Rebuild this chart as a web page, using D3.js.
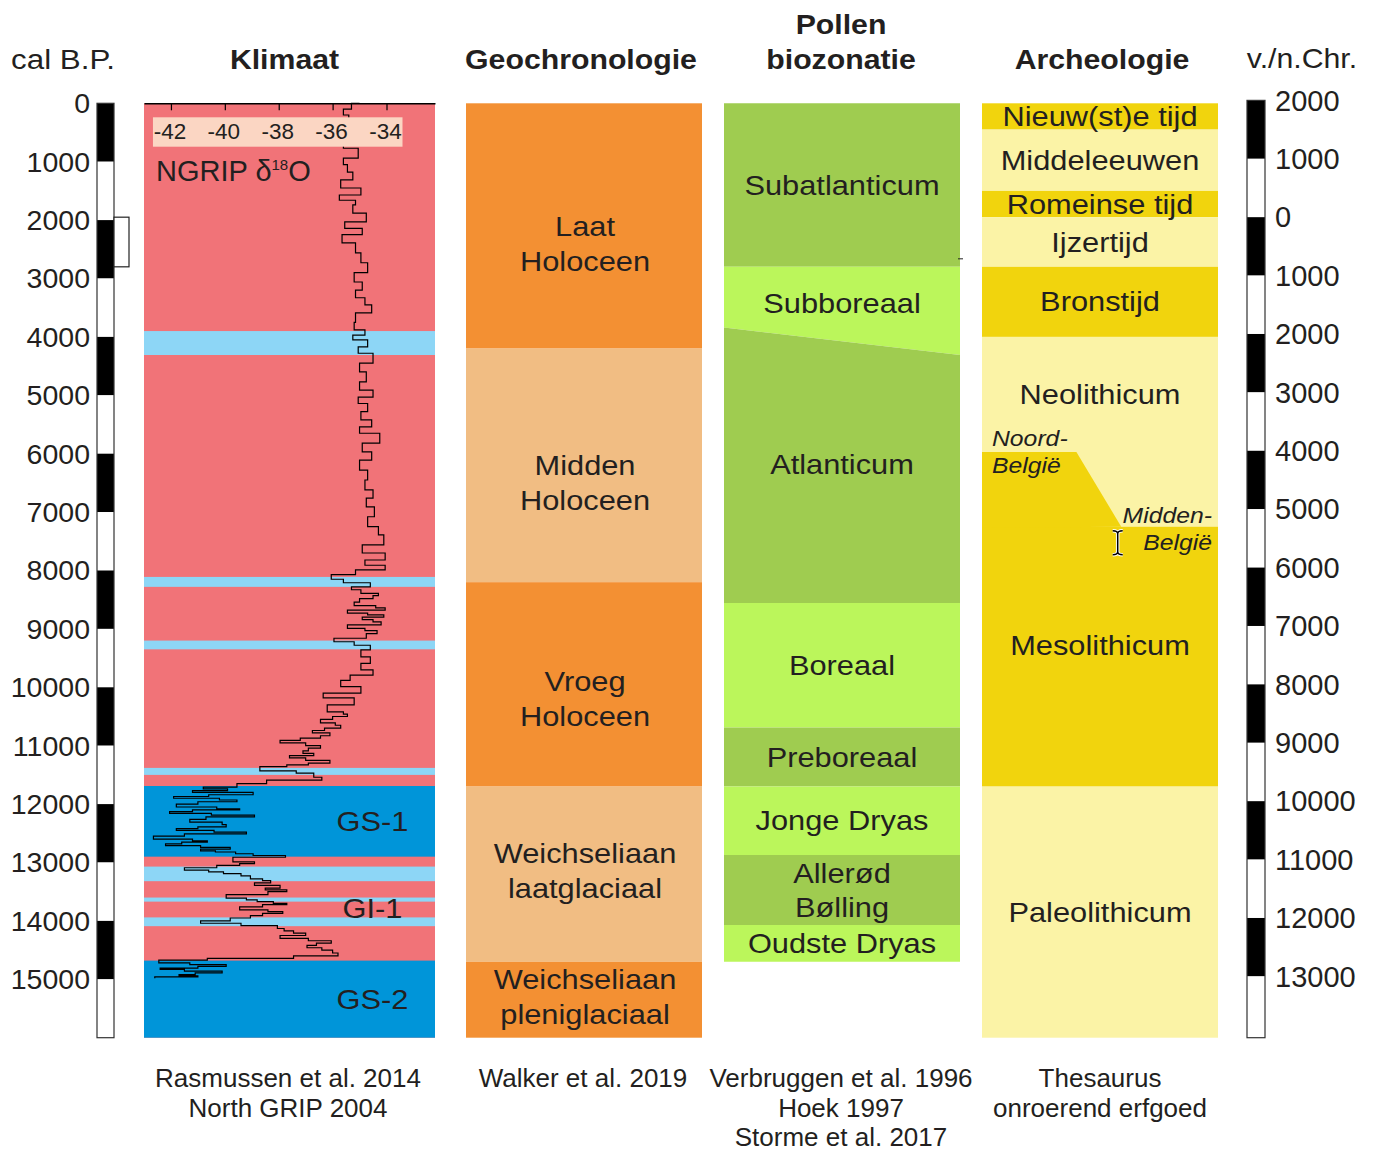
<!DOCTYPE html>
<html><head><meta charset="utf-8">
<script src="https://cdn.jsdelivr.net/npm/d3@7"></script>
<style>
body{margin:0;background:#fff}
svg{display:block}
text{font-family:"Liberation Sans",Arial,Helvetica,sans-serif;fill:#231f20}
</style>
</head><body>
<svg id="c" width="1379" height="1151"></svg>
<script>
// ---------------- DATA ----------------
const calBPTicks = [0,1000,2000,3000,4000,5000,6000,7000,8000,9000,10000,11000,12000,13000,14000,15000];
const calBPEnd = 16000;
const chrYears = [2000,1000,0,-1000,-2000,-3000,-4000,-5000,-6000,-7000,-8000,-9000,-10000,-11000,-12000,-13000];
const chrTickLabels = ["2000","1000","0","1000","2000","3000","4000","5000","6000","7000","8000","9000","10000","11000","12000","13000"];
const bpOfYearZero = 1950;
const markerBox = [1950, 2800];

const d18OTicks = [-42,-40,-38,-36,-34];
const d18ODomain = [-43.0,-32.2];

const climFrom = [3900, 8110, 9200, 11380, 11690, 13070, 13600, 13940, 14680];
const climTo   = [4310, 8280, 9350, 11500, 12900, 13320, 13670, 14090, 16000];
const climKind = ["cold","cold","cold","cold","stadial","cold","cold","cold","stadial"];
const climLabels = ["GS-1","GI-1","GS-2"];
const climLabelFrom = [11690, 12900, 14680];
const climLabelTo = [12900, 14680, 16000];

// NGRIP d18O (permil): age (cal BP) and value
const ngripAge = [0,100,200,350,500,650,770,940,1050,1180,1310,1450,1570,1660,1740,1880,2030,2140,2250,2390,2560,2730,2900,3060,3200,3330,3450,3590,3750,3880,3970,4050,4170,4280,4450,4600,4770,4910,5030,5140,5280,5420,5540,5650,5820,5970,6110,6280,6450,6620,6760,6910,7080,7250,7390,7560,7700,7820,7910,7990,8070,8150,8210,
  8280,8330,8390,8430,8480,8540,8600,8640,8680,8730,8760,8800,8840,8880,8930,8990,9030,9080,9160,9220,9280,9360,9480,9590,9700,9790,9880,9990,10100,10180,10300,
  10420,10460,10500,10550,10610,10650,10700,10740,10780,10830,10870,10910,10950,11000,11040,11090,11130,11170,11210,11250,11300,11330,11360,11430,11470,11540,11590,11650,
  11710,11740,11770,11800,11840,11870,11900,11930,11960,12000,12050,12080,12100,12130,12160,12190,12220,12260,12310,12350,12390,12420,12450,12480,12510,12550,12600,12630,12650,12680,12710,12740,12770,12800,12820,12850,12880,12910,
  12990,13020,13050,13090,13130,13160,13190,13230,13280,13310,13350,13390,13440,13470,13500,13550,13610,13640,13670,13700,13720,13760,13810,13840,13870,13910,13950,14000,14040,14080,14130,14170,14210,14250,14300,14340,14380,14420,14460,14500,14550,14600,14640,14670,
  14720,14750,14780,14810,14830,14860,14890,14920,14940,14960,14980];
const ngripD18O = [-35.0,-35.3,-35.6,-35.4,-35.2,-35.5,-35.6,-35.05,-35.6,-35.45,-35.25,-35.7,-34.95,-35.75,-35.15,-35.25,-34.75,-35.55,-34.9,-35.65,-35.15,-34.95,-34.7,-35.2,-34.9,-35.15,-34.8,-34.55,-35.15,-35.2,-34.8,-35.25,-34.7,-35.05,-34.5,-35.0,-34.75,-35.0,-34.5,-35.05,-34.7,-34.95,-34.55,-35.0,-34.25,-34.9,-34.55,-35.0,-34.7,-34.8,-34.5,-34.75,-34.45,-34.7,-34.3,-34.1,-34.9,-34.05,-34.8,-34.05,-35.15,-36.05,-35.6,
  -34.6,-35.3,-34.95,-34.3,-34.5,-35.0,-35.2,-34.4,-34.05,-35.45,-34.7,-34.1,-34.9,-34.5,-34.2,-35.45,-34.8,-34.35,-34.75,-35.95,-35.2,-34.6,-34.95,-34.6,-34.95,-34.5,-35.35,-35.7,-34.95,-36.35,-35.2,
  -36.2,-35.6,-35.45,-36.0,-36.45,-35.9,-35.7,-36.3,-36.75,-36.1,-36.45,-37.2,-37.95,-37.0,-36.45,-36.9,-37.1,-36.7,-37.6,-37.0,-36.1,-36.9,-37.7,-38.7,-37.35,-36.7,-36.4,-38.45,
  -39.55,-40.8,-39.9,-41.2,-38.95,-40.6,-41.9,-40.2,-39.55,-41.0,-41.8,-40.3,-39.45,-41.2,-42.05,-40.5,-38.9,-40.7,-41.3,-40.1,-39.95,-41.0,-41.8,-40.4,-39.2,-41.5,-42.65,-41.2,-40.65,-41.6,-42.2,-40.9,-39.8,-40.9,-40.35,-39.6,-38.95,-37.75,
  -39.7,-38.9,-39.45,-40.3,-41.5,-40.6,-40.05,-39.4,-39.05,-38.6,-38.3,-38.9,-37.95,-38.5,-37.7,-38.4,-39.95,-39.2,-38.8,-38.2,-37.7,-38.6,-39.45,-38.4,-37.85,-38.6,-39.05,-39.8,-40.9,-39.4,-38.05,-37.8,-37.45,-37.0,-37.95,-36.9,-36.05,-36.6,-36.95,-36.4,-36.0,-35.8,-37.45,-40.65,
  -42.45,-41.3,-39.95,-41.0,-42.4,-41.5,-40.1,-41.1,-41.7,-41.0,-42.6];

const geoNames = [["Laat","Holoceen"],["Midden","Holoceen"],["Vroeg","Holoceen"],["Weichseliaan","laatglaciaal"],["Weichseliaan","pleniglaciaal"]];
const geoFrom = [0,4200,8200,11700,14700];
const geoTo   = [4200,8200,11700,14700,16000];
const geoKind = [0,1,0,1,0];
const geoLabelBP = [2400,6500,10200,13150,15300];

const pollenNames = [["Subatlanticum"],["Subboreaal"],["Atlanticum"],["Boreaal"],["Preboreaal"],["Jonge Dryas"],["Allerød","Bølling"],["Oudste Dryas"]];
const pollenTopL = [0,2800,3840,8555,10690,11700,12870,14070];
const pollenTopR = [0,2800,4310,8555,10690,11700,12870,14070];
const pollenBotL = [2800,3840,8555,10690,11700,12870,14070,14700];
const pollenBotR = [2800,4310,8555,10690,11700,12870,14070,14700];
const pollenKind = [0,1,0,1,0,1,0,1];
const pollenLabelBP = [1400,3430,6190,9620,11195,12285,13470,14385];

const archNames = ["Nieuw(st)e tijd","Middeleeuwen","Romeinse tijd","Ijzertijd","Bronstijd","Neolithicum","Mesolithicum","Paleolithicum"];
const archFrom = [0,450,1500,1950,2800,4000,7250,11700];
const archTo   = [450,1500,1950,2800,4000,7250,11700,16000];
const archKind = [1,0,1,0,1,0,1,0];
const archLabelBP = [225,975,1725,2375,3400,4985,9280,13850];
const mesoNorthBP = 5970;   // Neolithicum/Mesolithicum boundary, Noord-België
const mesoMidBP = 7250;     // idem, Midden-België

const headers = ["Klimaat","Geochronologie","Archeologie"];
const sources = [["Rasmussen et al. 2014","North GRIP 2004"],["Walker et al. 2019"],["Verbruggen et al. 1996","Hoek 1997","Storme et al. 2017"],["Thesaurus","onroerend erfgoed"]];

// ---------------- LAYOUT / STYLE ----------------
const C = {
  red:"#f17378", cold:"#8dd6f6", stadial:"#0095d9", peach:"#fbd6c3",
  orange:["#f39033","#f1bd83"], green:["#9fcc50","#bbf65b"], yellow:["#fbf3a6","#f1d40d"]
};
const colClim=[144,435], colGeo=[466,702], colPol=[724,960], colArch=[982,1218];
const svg = d3.select("#c");
const y = d3.scaleLinear().domain([0,16000]).range([103.3,1037.7]);

function txt(g, str, x, yy, size, opt={}) {
  return g.append("text")
    .attr("transform", `translate(${x},${yy}) scale(${opt.sx||1},1)`)
    .attr("text-anchor", opt.anchor||"middle")
    .attr("dy","0.35em")
    .style("font-size", size+"px")
    .style("font-weight", opt.bold?"bold":"normal")
    .style("font-style", opt.italic?"italic":"normal")
    .text(str);
}
function lines(g, arr, x, cy, size, lh, opt) {
  arr.forEach((s,i)=> txt(g, s, x, cy + (i-(arr.length-1)/2)*lh, size, opt));
}
const LBL = 27.5, LSX = 1.12;

// ---------------- LEFT AXIS ----------------
const gL = svg.append("g");
calBPTicks.forEach((t,i)=>{
  const t1 = i<calBPTicks.length-1 ? calBPTicks[i+1] : calBPEnd;
  gL.append("rect").attr("x",97).attr("width",17).attr("y",y(t)).attr("height",y(t1)-y(t))
    .attr("fill", i%2===0 ? "#000" : "#fff");
  txt(gL, String(t), 90, y(t), 28.5, {anchor:"end"});
});
gL.append("rect").attr("x",97).attr("width",17).attr("y",y(0)).attr("height",y(calBPEnd)-y(0))
  .attr("fill","none").attr("stroke","#333").attr("stroke-width",1.2);
gL.append("rect").attr("x",114).attr("width",15).attr("y",y(markerBox[0])).attr("height",y(markerBox[1])-y(markerBox[0]))
  .attr("fill","#fff").attr("stroke","#222").attr("stroke-width",1.2);

// ---------------- RIGHT AXIS ----------------
const gR = svg.append("g");
const chrEnd = bpOfYearZero - calBPEnd;
chrYears.forEach((yr,i)=>{
  const yr1 = i<chrYears.length-1 ? chrYears[i+1] : chrEnd;
  const a = y(bpOfYearZero-yr), b = y(bpOfYearZero-yr1);
  gR.append("rect").attr("x",1247).attr("width",18).attr("y",a).attr("height",b-a)
    .attr("fill", i%2===0 ? "#000" : "#fff");
  txt(gR, chrTickLabels[i], 1275, a, 29, {anchor:"start"});
});
gR.append("rect").attr("x",1247).attr("width",18).attr("y",y(bpOfYearZero-chrYears[0]))
  .attr("height",y(bpOfYearZero-chrEnd)-y(bpOfYearZero-chrYears[0]))
  .attr("fill","none").attr("stroke","#333").attr("stroke-width",1.2);

// ---------------- HEADERS ----------------
const gH = svg.append("g");
txt(gH, "cal B.P.", 63, 59, 27.5, {sx:1.14});
txt(gH, headers[0], (colClim[0]+colClim[1])/2-5, 59, LBL, {bold:true, sx:1.1});
txt(gH, headers[1], (colGeo[0]+colGeo[1])/2-3, 59, LBL, {bold:true, sx:1.1});
lines(gH, ["Pollen","biozonatie"], (colPol[0]+colPol[1])/2-1, 41.5, LBL, 35, {bold:true, sx:1.1});
txt(gH, headers[2], (colArch[0]+colArch[1])/2+2, 59, LBL, {bold:true, sx:1.1});
txt(gH, "v./n.Chr.", 1302, 58, 27.5, {sx:1.1});

// ---------------- KLIMAAT ----------------
const gK = svg.append("g");
const xD = d3.scaleLinear().domain(d18ODomain).range(colClim);
gK.append("rect").attr("x",colClim[0]).attr("y",y(0)).attr("width",colClim[1]-colClim[0]).attr("height",y(16000)-y(0)).attr("fill",C.red);
climFrom.forEach((f,i)=>{
  gK.append("rect").attr("x",colClim[0]).attr("width",colClim[1]-colClim[0])
    .attr("y",y(f)).attr("height",y(climTo[i])-y(f)).attr("fill", C[climKind[i]]);
});
const pts = ngripAge.map((a,i)=>[a, ngripD18O[i]]);
gK.append("path").attr("d", d3.line().x(d=>xD(d[1])).y(d=>y(d[0])).curve(d3.curveStepAfter)(pts))
  .attr("fill","none").attr("stroke","#000").attr("stroke-width",1.2);
const ax = gK.append("g").attr("transform",`translate(0,${y(0)})`)
  .call(d3.axisBottom(xD).tickValues(d18OTicks).tickSize(7).tickSizeOuter(0).tickFormat(""));
ax.select(".domain").attr("stroke","#000").attr("stroke-width",1.5);
ax.selectAll(".tick line").attr("stroke","#000").attr("stroke-width",1.2);
gK.append("rect").attr("x",xD(d18OTicks[0])-18).attr("y",117.3)
  .attr("width",xD(d18OTicks[d18OTicks.length-1])-xD(d18OTicks[0])+34).attr("height",29.4).attr("fill",C.peach);
d18OTicks.forEach(v=> txt(gK, String(v), xD(v)-1, 131.5, 22.5));
const ng = gK.append("text").attr("x",156).attr("y",181).style("font-size","29px");
ng.append("tspan").text("NGRIP δ");
ng.append("tspan").attr("dy",-11).style("font-size","15px").text("18");
ng.append("tspan").attr("dy",11).text("O");
climLabels.forEach((l,i)=> txt(gK, l, colClim[0]+0.785*(colClim[1]-colClim[0]), y((climLabelFrom[i]+climLabelTo[i])/2), LBL, {sx:LSX}));

// ---------------- GEOCHRONOLOGIE ----------------
const gG = svg.append("g");
const geoCx = (colGeo[0]+colGeo[1])/2;
geoFrom.forEach((f,i)=>{
  gG.append("rect").attr("x",colGeo[0]).attr("width",colGeo[1]-colGeo[0])
    .attr("y",y(f)).attr("height",y(geoTo[i])-y(f)).attr("fill",C.orange[geoKind[i]]);
  lines(gG, geoNames[i], geoCx+1, y(geoLabelBP[i]), LBL, 35, {sx:LSX});
});

// ---------------- POLLEN ----------------
const gP = svg.append("g");
const polCx = (colPol[0]+colPol[1])/2;
pollenNames.forEach((n,i)=>{
  const p = [[colPol[0],y(pollenTopL[i])],[colPol[1],y(pollenTopR[i])],[colPol[1],y(pollenBotR[i])],[colPol[0],y(pollenBotL[i])]];
  gP.append("path").attr("d","M"+p.join("L")+"Z").attr("fill",C.green[pollenKind[i]]);
});
pollenNames.forEach((n,i)=> lines(gP, n, polCx, y(pollenLabelBP[i]), LBL, 34, {sx:LSX}));
gP.append("line").attr("x1",colPol[1]-2).attr("x2",colPol[1]+3).attr("y1",y(pollenBotL[0])-8).attr("y2",y(pollenBotL[0])-8)
  .attr("stroke","#222").attr("stroke-width",1);

// ---------------- ARCHEOLOGIE ----------------
const gA = svg.append("g");
const xA = d3.scaleLinear().domain([0,1]).range(colArch);
archFrom.forEach((f,i)=>{
  gA.append("rect").attr("x",colArch[0]).attr("width",colArch[1]-colArch[0])
    .attr("y",y(f)).attr("height",y(archTo[i])-y(f)).attr("fill",C.yellow[archKind[i]]);
});
const meso = [[xA(0),y(mesoNorthBP)],[xA(0.40),y(mesoNorthBP)],[xA(0.59),y(mesoMidBP)],[xA(0),y(mesoMidBP)+1]];
gA.append("path").attr("d","M"+meso.join("L")+"Z").attr("fill",C.yellow[1]);
archNames.forEach((n,i)=> txt(gA, n, xA(0.5), y(archLabelBP[i]), LBL, {sx:LSX}));
txt(gA, "Noord-", colArch[0]+10, y(mesoNorthBP)-14, 22.5, {anchor:"start", italic:true, sx:1.1});
txt(gA, "België", colArch[0]+10, y(mesoNorthBP)+13, 22.5, {anchor:"start", italic:true, sx:1.1});
txt(gA, "Midden-", colArch[1]-6, y(mesoMidBP)-12, 22.5, {anchor:"end", italic:true, sx:1.1});
txt(gA, "België", colArch[1]-6, y(mesoMidBP)+15, 22.5, {anchor:"end", italic:true, sx:1.1});
// text-cursor glyph visible in the source image
const cx0 = xA(0.575), cy0 = y(mesoMidBP)+16;
const cur = "M"+(cx0-5)+","+(cy0-12)+" q5,0 5,3 q0,-3 5,-3 M"+cx0+","+(cy0-9)+" v18 M"+(cx0-5)+","+(cy0+12)+" q5,0 5,-3 q0,3 5,3";
gA.append("path").attr("d",cur).attr("fill","none").attr("stroke","#fff").attr("stroke-width",3.5);
gA.append("path").attr("d",cur).attr("fill","none").attr("stroke","#000").attr("stroke-width",1.5);

// ---------------- SOURCES ----------------
const gS = svg.append("g");
const srcX = [288, 583, 841, 1100];
sources.forEach((arr,i)=> arr.forEach((s,j)=> txt(gS, s, srcX[i], 1078+j*29.5, 26)));
</script>
</body></html>
